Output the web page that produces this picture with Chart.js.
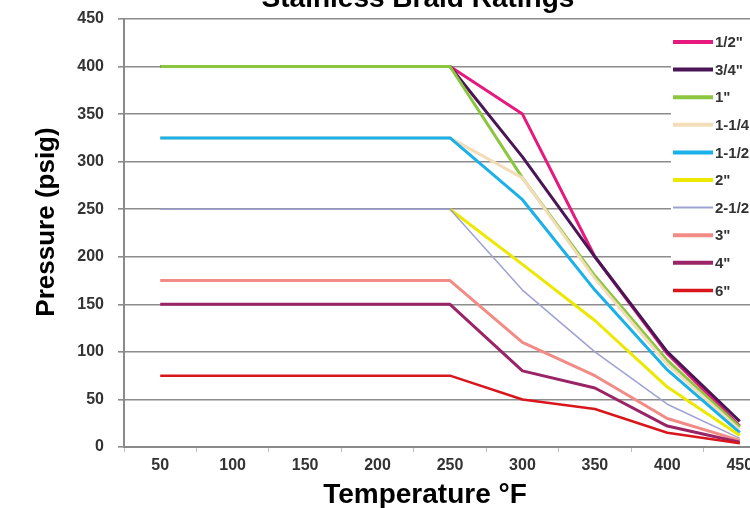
<!DOCTYPE html>
<html>
<head>
<meta charset="utf-8">
<script src="https://cdn.jsdelivr.net/npm/chart.js@4"></script>
<style>
  html, body { margin: 0; padding: 0; background: #fff; overflow: hidden; }
  #wrap { position: relative; width: 790px; height: 508px; }
</style>
</head>
<body>
<div id="wrap"><canvas id="braidChart"></canvas></div>
<script>
// Temperature (F) categories
const temps = ["50", "100", "150", "200", "250", "300", "350", "400", "450"];

// Pressure ratings (psig) per hose size
const size12 = [400, 400, 400, 400, 400, 350, 200, 98, 22];
const size34 = [400, 400, 400, 400, 400, 305, 200, 100, 27];
const size1 = [400, 400, 400, 400, 400, 283, 180, 91, 21];
const size114 = [325, 325, 325, 325, 325, 283, 177, 87, 18];
const size112 = [325, 325, 325, 325, 325, 260, 165, 81, 15];
const size2 = [null, null, null, null, 250, 192, 133, 63, 12];
const size212 = [250, 250, 250, 250, 250, 165, 100, 45, 9];
const size3 = [175, 175, 175, 175, 175, 110, 75, 30, 7];
const size4 = [150, 150, 150, 150, 150, 80, 62, 22, 5];
const size6 = [75, 75, 75, 75, 75, 50, 40, 15, 4];

const sizeLabels = ['1/2"', '3/4"', '1"', '1-1/4"', '1-1/2"', '2"', '2-1/2"', '3"', '4"', '6"'];
const yTicks = [0, 50, 100, 150, 200, 250, 300, 350, 400, 450];

const series = [size12, size34, size1, size114, size112, size2, size212, size3, size4, size6];
const colors = ["#e5197e", "#4a1656", "#8cc63e", "#f3dcb8", "#1ab0e8", "#ece800", "#9fa1d3", "#f28b86", "#9a2466", "#d8161b"];
const widths = [3, 3, 3, 3, 3, 3, 1.5, 3, 3, 2.5];

const FONT = "'Liberation Sans', Arial, Helvetica, sans-serif";

// Titles and the legend box are drawn by hand so they sit where the original has them
const textPlugin = {
    id: "braidText",
    afterDraw(chart) {
        const ctx = chart.ctx;
        ctx.save();
        ctx.fillStyle = "#000";
        ctx.textAlign = "center";
        ctx.textBaseline = "alphabetic";
        ctx.font = "bold 28px " + FONT;
        ctx.fillText("Stainless Braid Ratings", 418, 7);
        ctx.fillText("Temperature \u00B0F", 425, 503);

        ctx.save();
        ctx.translate(54, 222);
        ctx.rotate(-Math.PI / 2);
        ctx.font = "bold 26px " + FONT;
        ctx.fillText("Pressure (psig)", 0, 0);
        ctx.restore();

        // legend
        ctx.fillStyle = "#fff";
        ctx.fillRect(671, 25, 130, 274);
        ctx.textAlign = "left";
        ctx.textBaseline = "middle";
        ctx.font = "bold 15px " + FONT;
        chart.data.datasets.forEach((ds, i) => {
            const y = 42 + i * 27.6;
            ctx.strokeStyle = ds.borderColor;
            ctx.lineWidth = ds.borderWidth < 2 ? 2 : ds.borderWidth + 1;
            ctx.beginPath();
            ctx.moveTo(673, y);
            ctx.lineTo(713, y);
            ctx.stroke();
            ctx.fillStyle = "#333";
            ctx.fillText(ds.label, 715, y + 1);
        });
        ctx.restore();
    }
};

const ctx = document.getElementById("braidChart").getContext("2d");
const braidChart = new Chart(ctx, {
    type: "line",
    data: {
        labels: temps,
        datasets: series.map((vals, i) => ({
            label: sizeLabels[i],
            data: vals,
            borderColor: colors[i],
            backgroundColor: colors[i],
            borderWidth: widths[i],
            borderJoinStyle: "round",
            pointRadius: 0,
            tension: 0,
            fill: false,
            order: series.length - i
        }))
    },
    options: {
        responsive: true,
        maintainAspectRatio: false,
        animation: false,
        layout: { padding: { top: 19, right: 14, left: 0, bottom: 0 } },
        plugins: {
            legend: { display: false },
            title: { display: false },
            tooltip: { enabled: false }
        },
        scales: {
            x: {
                type: "category",
                offset: true,
                grid: {
                    display: true,
                    offset: true,
                    drawOnChartArea: false,
                    color: "#bdbdbd",
                    tickLength: 5
                },
                border: { color: "#8a8a8a", width: 2 },
                ticks: {
                    color: "#333",
                    padding: 4,
                    maxRotation: 0,
                    font: { family: FONT, size: 16, weight: "bold" }
                },
                afterFit: (axis) => { axis.height = 61; }
            },
            y: {
                min: 0,
                max: 450,
                afterBuildTicks: (axis) => { axis.ticks = yTicks.map(v => ({ value: v })); },
                grid: {
                    color: "#8c8c8c",
                    lineWidth: 1.6,
                    tickLength: 6
                },
                border: { color: "#8a8a8a", width: 2 },
                ticks: {
                    color: "#333",
                    padding: 14,
                    font: { family: FONT, size: 16, weight: "bold" }
                },
                afterFit: (axis) => {
                    axis.width = 124;
                    axis.paddingTop = 0;
                    axis.paddingBottom = 0;
                }
            }
        }
    },
    plugins: [textPlugin]
});
</script>
</body>
</html>
